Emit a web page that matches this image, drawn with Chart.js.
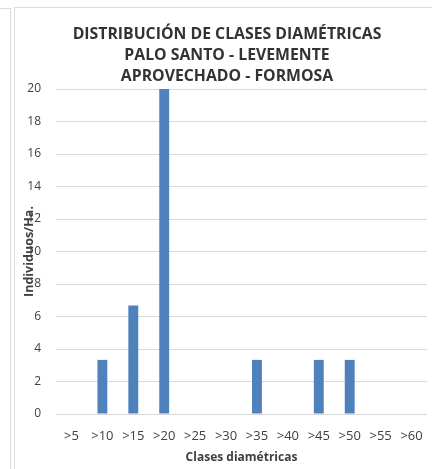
<!DOCTYPE html>
<html>
<head>
<meta charset="utf-8">
<script src="https://cdn.jsdelivr.net/npm/chart.js@4"></script>
<style>
  html, body { margin: 0; padding: 0; background: #fff; width: 432px; height: 469px; overflow: hidden; }
  .frame { position: absolute; border: 1.5px solid #dcdcdc; box-sizing: border-box; }
  #c { position: absolute; left: 0; top: 0; }
</style>
</head>
<body>
<div class="frame" style="left:-20px; top:8px; width:31px; height:520px;"></div>
<div class="frame" style="left:14px; top:7px; width:480px; height:520px;"></div>
<canvas id="c" width="432" height="469"></canvas>
<script>
const categories = [">5", ">10", ">15", ">20", ">25", ">30", ">35", ">40", ">45", ">50", ">55", ">60"];
const values = [0, 3.33, 6.67, 20, 0, 0, 3.33, 0, 3.33, 3.33, 0, 0];
const yTicks = [0, 2, 4, 6, 8, 10, 12, 14, 16, 18, 20];
const titleLines = ["DISTRIBUCIÓN DE CLASES DIAMÉTRICAS", "PALO SANTO - LEVEMENTE", "APROVECHADO - FORMOSA"];
const xTitle = "Clases diamétricas";
const yTitle = "Individuos/Ha.";

const FONT = "'Open Sans', 'Noto Sans', sans-serif";

const textPlugin = {
  id: 'texts',
  afterDraw(chart) {
    const ctx = chart.ctx;
    const a = chart.chartArea;
    ctx.save();
    ctx.fillStyle = '#333333';
    ctx.textAlign = 'center';
    ctx.textBaseline = 'middle';
    ctx.font = "bold 15.8px " + FONT;
    const ys = [34, 55, 76];
    titleLines.forEach((t, i) => ctx.fillText(t, 227, ys[i]));
    ctx.fillStyle = '#404040';
    ctx.font = "bold 12px " + FONT;
    ctx.fillText(xTitle, (a.left + a.right) / 2, 458);
    ctx.translate(29, (a.top + a.bottom) / 2);
    ctx.rotate(-Math.PI / 2);
    ctx.font = "bold 12.5px " + FONT;
    ctx.fillText(yTitle, 0, 0);
    ctx.restore();
  }
};

new Chart(document.getElementById('c'), {
  type: 'bar',
  data: {
    labels: categories,
    datasets: [{
      data: values,
      backgroundColor: '#4f81bd',
      categoryPercentage: 1,
      barPercentage: 0.32
    }]
  },
  options: {
    responsive: false,
    animation: false,
    layout: { padding: { left: 0, right: 5, top: 89, bottom: 0 } },
    plugins: { legend: { display: false }, tooltip: { enabled: false }, title: { display: false } },
    scales: {
      x: {
        grid: { display: false, drawTicks: false },
        border: { display: false },
        ticks: { color: '#404040', font: { family: FONT, size: 13 }, padding: 14, maxRotation: 0, autoSkip: false },
        afterFit(s) { s.height = 55; s.paddingLeft = 0; s.paddingRight = 0; }
      },
      y: {
        min: 0, max: 20,
        afterBuildTicks(s) { s.ticks = yTicks.map(v => ({ value: v })); },
        grid: { color: '#d9d9d9', drawTicks: false, lineWidth: 1 },
        border: { display: false },
        ticks: { color: '#404040', font: { family: FONT, size: 12 }, padding: 15 },
        afterFit(s) { s.width = 56; s.paddingTop = 0; s.paddingBottom = 0; }
      }
    }
  },
  plugins: [textPlugin]
});
</script>
</body>
</html>
